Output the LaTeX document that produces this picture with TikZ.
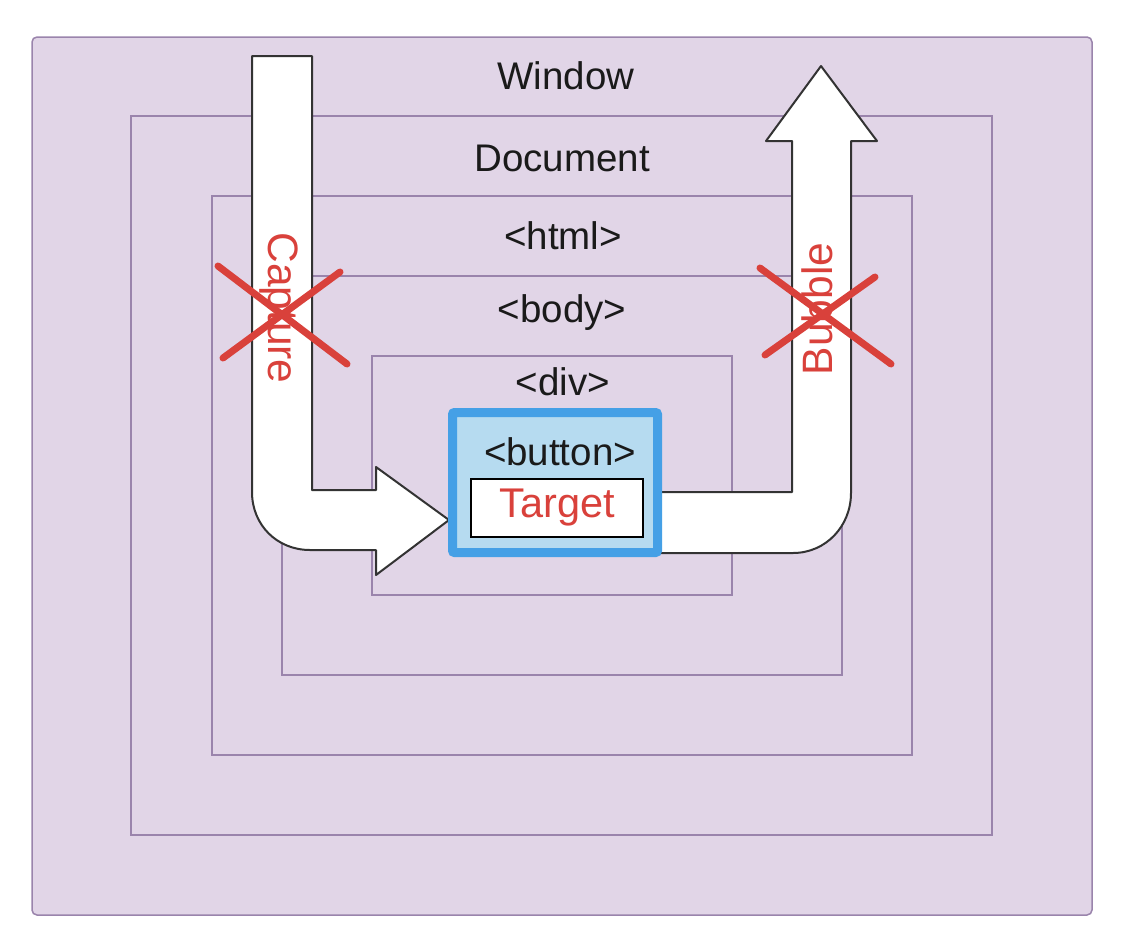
\documentclass[tikz,border=0pt]{standalone}
\usepackage{fontspec}
\setmainfont{Liberation Sans}
\usepackage{xcolor}
\usepackage{tikz}

\definecolor{winfill}{HTML}{E1D5E7}
\definecolor{winline}{HTML}{9A84AC}
\definecolor{btnfill}{HTML}{B6DBF0}
\definecolor{btnline}{HTML}{45A0E6}
\definecolor{evred}{HTML}{D9413B}
\definecolor{txt}{HTML}{1A1A1A}

\begin{document}
\begin{tikzpicture}[x=1pt,y=-1pt,line width=1.5pt,
  every node/.style={font=\fontsize{38.5pt}{44pt}\selectfont,inner sep=0pt,text=txt},
  layer/.style={draw=winline,fill=winfill},
  flow/.style={draw=black!80,fill=white,line width=2pt,line join=round},
  evlabel/.style={font=\fontsize{42.5pt}{48pt}\selectfont,text=evred},
  cross/.style={draw=evred,line width=7pt,line cap=round}]
  \useasboundingbox (0,0) rectangle (1128,938);
  % nested layers
  \draw[layer,rounded corners=5pt] (32,37) rectangle (1092,915);
  \draw[layer] (131,116) rectangle (992,835);
  \draw[layer] (212,196) rectangle (912,755);
  \draw[layer] (282,276) rectangle (842,675);
  \draw[layer] (372,356) rectangle (732,595);
  \node[anchor=base] (window) at (566,89) {Window};
  \node[anchor=base] (document) at (562,171) {Document};
  \node[anchor=base] (html) at (563,249) {<html>};
  \node[anchor=base] (body) at (562,322) {<body>};
  \node[anchor=base] (div) at (563,395) {<div>};
  % capture and bubble paths
  \draw[flow] (252,56) -- (312,56) -- (312,490) -- (376,490) -- (376,467)
    -- (449,520) -- (376,575) -- (376,550) -- (310,550)
    .. controls (277,550) and (252,525) .. (252,492) -- cycle;
  \draw[flow] (658,492) -- (792,492) -- (792,141) -- (766,141) -- (821,66)
    -- (877,141) -- (851,141) -- (851,493)
    .. controls (851,526) and (826,553) .. (793,553) -- (658,553) -- cycle;
  % target
  \node[draw=btnline,fill=btnfill,line width=9pt,rounded corners=2pt,
    minimum width=205pt,minimum height=140pt] (button) at (555,482.5) {};
  \node[anchor=base] (buttontext) at (560,465) {<button>};
  \node[draw=black,fill=white,minimum width=172pt,minimum height=58pt,
    font=\fontsize{41.5pt}{46pt}\selectfont,text=evred] (target) at (557,508) {Target};
  \node[evlabel,rotate=-90,anchor=base] (capture) at (268,308) {Capture};
  \node[evlabel,rotate=90,anchor=base] (bubble) at (832,309) {Bubble};
  % crossed out
  \draw[cross] (218,266) -- (347,364);
  \draw[cross] (340,272) -- (223,358);
  \draw[cross] (760,268) -- (891,364);
  \draw[cross] (875,277) -- (765,355);
\end{tikzpicture}
\end{document}
